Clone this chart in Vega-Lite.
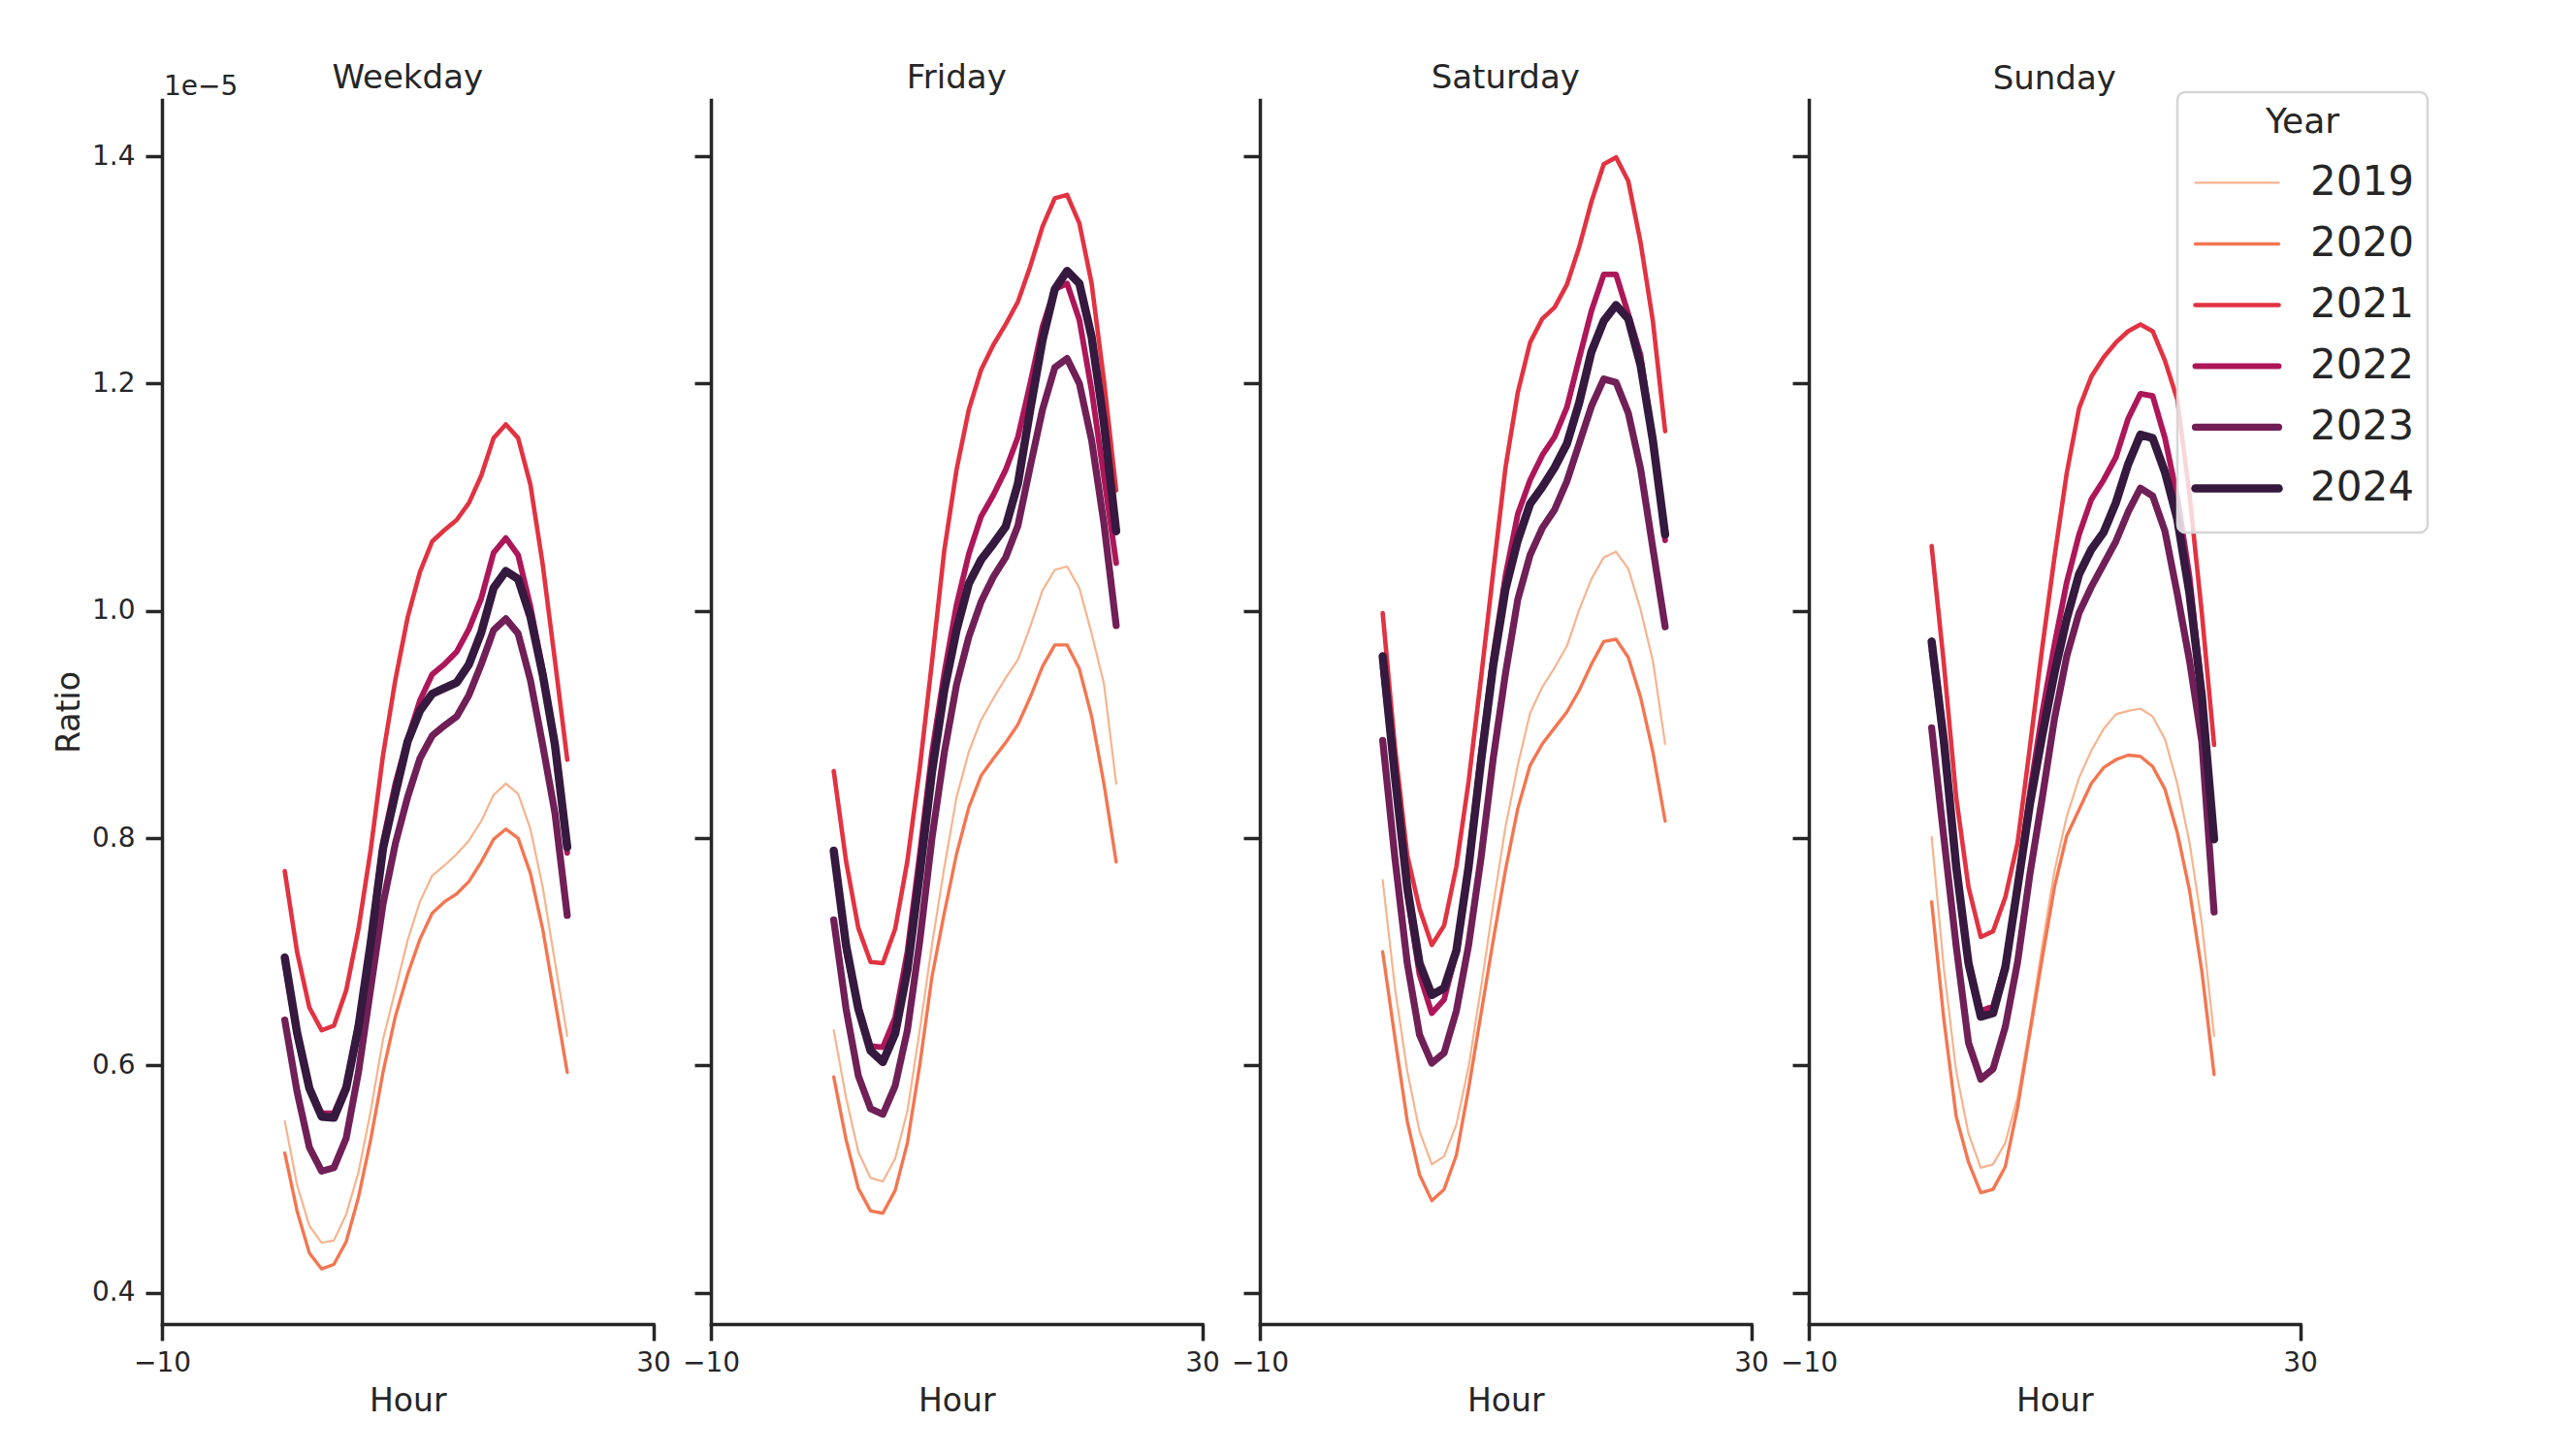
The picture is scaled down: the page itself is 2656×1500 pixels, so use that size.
{
"$schema":"https://vega.github.io/schema/vega-lite/v6.json",
"padding":{"left":55,"top":64,"right":20,"bottom":20},
"datasets":{
"weekday":[
{"y":2019,"h":0,"r":0.551},{"y":2019,"h":1,"r":0.495},{"y":2019,"h":2,"r":0.459},{"y":2019,"h":3,"r":0.444},{"y":2019,"h":4,"r":0.446},{"y":2019,"h":5,"r":0.469},{"y":2019,"h":6,"r":0.506},{"y":2019,"h":7,"r":0.560},{"y":2019,"h":8,"r":0.623},{"y":2019,"h":9,"r":0.666},{"y":2019,"h":10,"r":0.710},{"y":2019,"h":11,"r":0.744},{"y":2019,"h":12,"r":0.767},{"y":2019,"h":13,"r":0.776},{"y":2019,"h":14,"r":0.786},{"y":2019,"h":15,"r":0.798},{"y":2019,"h":16,"r":0.815},{"y":2019,"h":17,"r":0.838},{"y":2019,"h":18,"r":0.848},{"y":2019,"h":19,"r":0.839},{"y":2019,"h":20,"r":0.808},{"y":2019,"h":21,"r":0.757},{"y":2019,"h":22,"r":0.691},{"y":2019,"h":23,"r":0.626},
{"y":2020,"h":0,"r":0.523},{"y":2020,"h":1,"r":0.472},{"y":2020,"h":2,"r":0.435},{"y":2020,"h":3,"r":0.421},{"y":2020,"h":4,"r":0.425},{"y":2020,"h":5,"r":0.445},{"y":2020,"h":6,"r":0.484},{"y":2020,"h":7,"r":0.535},{"y":2020,"h":8,"r":0.594},{"y":2020,"h":9,"r":0.643},{"y":2020,"h":10,"r":0.680},{"y":2020,"h":11,"r":0.711},{"y":2020,"h":12,"r":0.734},{"y":2020,"h":13,"r":0.744},{"y":2020,"h":14,"r":0.751},{"y":2020,"h":15,"r":0.762},{"y":2020,"h":16,"r":0.779},{"y":2020,"h":17,"r":0.799},{"y":2020,"h":18,"r":0.808},{"y":2020,"h":19,"r":0.800},{"y":2020,"h":20,"r":0.769},{"y":2020,"h":21,"r":0.720},{"y":2020,"h":22,"r":0.657},{"y":2020,"h":23,"r":0.594},
{"y":2021,"h":0,"r":0.771},{"y":2021,"h":1,"r":0.700},{"y":2021,"h":2,"r":0.651},{"y":2021,"h":3,"r":0.631},{"y":2021,"h":4,"r":0.635},{"y":2021,"h":5,"r":0.666},{"y":2021,"h":6,"r":0.720},{"y":2021,"h":7,"r":0.790},{"y":2021,"h":8,"r":0.873},{"y":2021,"h":9,"r":0.939},{"y":2021,"h":10,"r":0.994},{"y":2021,"h":11,"r":1.034},{"y":2021,"h":12,"r":1.061},{"y":2021,"h":13,"r":1.071},{"y":2021,"h":14,"r":1.080},{"y":2021,"h":15,"r":1.095},{"y":2021,"h":16,"r":1.119},{"y":2021,"h":17,"r":1.152},{"y":2021,"h":18,"r":1.164},{"y":2021,"h":19,"r":1.152},{"y":2021,"h":20,"r":1.111},{"y":2021,"h":21,"r":1.041},{"y":2021,"h":22,"r":0.956},{"y":2021,"h":23,"r":0.869},
{"y":2022,"h":0,"r":0.690},{"y":2022,"h":1,"r":0.625},{"y":2022,"h":2,"r":0.578},{"y":2022,"h":3,"r":0.558},{"y":2022,"h":4,"r":0.558},{"y":2022,"h":5,"r":0.583},{"y":2022,"h":6,"r":0.638},{"y":2022,"h":7,"r":0.712},{"y":2022,"h":8,"r":0.797},{"y":2022,"h":9,"r":0.848},{"y":2022,"h":10,"r":0.887},{"y":2022,"h":11,"r":0.921},{"y":2022,"h":12,"r":0.944},{"y":2022,"h":13,"r":0.953},{"y":2022,"h":14,"r":0.964},{"y":2022,"h":15,"r":0.984},{"y":2022,"h":16,"r":1.011},{"y":2022,"h":17,"r":1.051},{"y":2022,"h":18,"r":1.064},{"y":2022,"h":19,"r":1.049},{"y":2022,"h":20,"r":1.004},{"y":2022,"h":21,"r":0.948},{"y":2022,"h":22,"r":0.877},{"y":2022,"h":23,"r":0.787},
{"y":2023,"h":0,"r":0.640},{"y":2023,"h":1,"r":0.577},{"y":2023,"h":2,"r":0.528},{"y":2023,"h":3,"r":0.507},{"y":2023,"h":4,"r":0.510},{"y":2023,"h":5,"r":0.536},{"y":2023,"h":6,"r":0.594},{"y":2023,"h":7,"r":0.668},{"y":2023,"h":8,"r":0.742},{"y":2023,"h":9,"r":0.795},{"y":2023,"h":10,"r":0.836},{"y":2023,"h":11,"r":0.870},{"y":2023,"h":12,"r":0.890},{"y":2023,"h":13,"r":0.899},{"y":2023,"h":14,"r":0.907},{"y":2023,"h":15,"r":0.926},{"y":2023,"h":16,"r":0.953},{"y":2023,"h":17,"r":0.983},{"y":2023,"h":18,"r":0.993},{"y":2023,"h":19,"r":0.980},{"y":2023,"h":20,"r":0.939},{"y":2023,"h":21,"r":0.882},{"y":2023,"h":22,"r":0.822},{"y":2023,"h":23,"r":0.732},
{"y":2024,"h":0,"r":0.695},{"y":2024,"h":1,"r":0.629},{"y":2024,"h":2,"r":0.580},{"y":2024,"h":3,"r":0.555},{"y":2024,"h":4,"r":0.554},{"y":2024,"h":5,"r":0.580},{"y":2024,"h":6,"r":0.634},{"y":2024,"h":7,"r":0.708},{"y":2024,"h":8,"r":0.791},{"y":2024,"h":9,"r":0.839},{"y":2024,"h":10,"r":0.885},{"y":2024,"h":11,"r":0.912},{"y":2024,"h":12,"r":0.927},{"y":2024,"h":13,"r":0.932},{"y":2024,"h":14,"r":0.937},{"y":2024,"h":15,"r":0.953},{"y":2024,"h":16,"r":0.981},{"y":2024,"h":17,"r":1.020},{"y":2024,"h":18,"r":1.035},{"y":2024,"h":19,"r":1.028},{"y":2024,"h":20,"r":0.995},{"y":2024,"h":21,"r":0.944},{"y":2024,"h":22,"r":0.882},{"y":2024,"h":23,"r":0.792}
],
"friday":[
{"y":2019,"h":0,"r":0.631},{"y":2019,"h":1,"r":0.572},{"y":2019,"h":2,"r":0.524},{"y":2019,"h":3,"r":0.501},{"y":2019,"h":4,"r":0.498},{"y":2019,"h":5,"r":0.518},{"y":2019,"h":6,"r":0.560},{"y":2019,"h":7,"r":0.631},{"y":2019,"h":8,"r":0.706},{"y":2019,"h":9,"r":0.774},{"y":2019,"h":10,"r":0.836},{"y":2019,"h":11,"r":0.876},{"y":2019,"h":12,"r":0.904},{"y":2019,"h":13,"r":0.923},{"y":2019,"h":14,"r":0.941},{"y":2019,"h":15,"r":0.957},{"y":2019,"h":16,"r":0.986},{"y":2019,"h":17,"r":1.018},{"y":2019,"h":18,"r":1.036},{"y":2019,"h":19,"r":1.039},{"y":2019,"h":20,"r":1.020},{"y":2019,"h":21,"r":0.980},{"y":2019,"h":22,"r":0.936},{"y":2019,"h":23,"r":0.848},
{"y":2020,"h":0,"r":0.590},{"y":2020,"h":1,"r":0.535},{"y":2020,"h":2,"r":0.492},{"y":2020,"h":3,"r":0.472},{"y":2020,"h":4,"r":0.470},{"y":2020,"h":5,"r":0.490},{"y":2020,"h":6,"r":0.532},{"y":2020,"h":7,"r":0.600},{"y":2020,"h":8,"r":0.678},{"y":2020,"h":9,"r":0.734},{"y":2020,"h":10,"r":0.786},{"y":2020,"h":11,"r":0.827},{"y":2020,"h":12,"r":0.855},{"y":2020,"h":13,"r":0.870},{"y":2020,"h":14,"r":0.884},{"y":2020,"h":15,"r":0.900},{"y":2020,"h":16,"r":0.924},{"y":2020,"h":17,"r":0.951},{"y":2020,"h":18,"r":0.970},{"y":2020,"h":19,"r":0.970},{"y":2020,"h":20,"r":0.949},{"y":2020,"h":21,"r":0.907},{"y":2020,"h":22,"r":0.848},{"y":2020,"h":23,"r":0.779},
{"y":2021,"h":0,"r":0.859},{"y":2021,"h":1,"r":0.780},{"y":2021,"h":2,"r":0.721},{"y":2021,"h":3,"r":0.691},{"y":2021,"h":4,"r":0.690},{"y":2021,"h":5,"r":0.720},{"y":2021,"h":6,"r":0.780},{"y":2021,"h":7,"r":0.861},{"y":2021,"h":8,"r":0.955},{"y":2021,"h":9,"r":1.053},{"y":2021,"h":10,"r":1.124},{"y":2021,"h":11,"r":1.177},{"y":2021,"h":12,"r":1.212},{"y":2021,"h":13,"r":1.234},{"y":2021,"h":14,"r":1.252},{"y":2021,"h":15,"r":1.272},{"y":2021,"h":16,"r":1.303},{"y":2021,"h":17,"r":1.338},{"y":2021,"h":18,"r":1.363},{"y":2021,"h":19,"r":1.366},{"y":2021,"h":20,"r":1.341},{"y":2021,"h":21,"r":1.288},{"y":2021,"h":22,"r":1.203},{"y":2021,"h":23,"r":1.106},
{"y":2022,"h":0,"r":0.785},{"y":2022,"h":1,"r":0.700},{"y":2022,"h":2,"r":0.648},{"y":2022,"h":3,"r":0.617},{"y":2022,"h":4,"r":0.616},{"y":2022,"h":5,"r":0.642},{"y":2022,"h":6,"r":0.700},{"y":2022,"h":7,"r":0.785},{"y":2022,"h":8,"r":0.875},{"y":2022,"h":9,"r":0.945},{"y":2022,"h":10,"r":1.005},{"y":2022,"h":11,"r":1.050},{"y":2022,"h":12,"r":1.083},{"y":2022,"h":13,"r":1.102},{"y":2022,"h":14,"r":1.124},{"y":2022,"h":15,"r":1.153},{"y":2022,"h":16,"r":1.200},{"y":2022,"h":17,"r":1.250},{"y":2022,"h":18,"r":1.283},{"y":2022,"h":19,"r":1.288},{"y":2022,"h":20,"r":1.256},{"y":2022,"h":21,"r":1.194},{"y":2022,"h":22,"r":1.118},{"y":2022,"h":23,"r":1.042},
{"y":2023,"h":0,"r":0.728},{"y":2023,"h":1,"r":0.650},{"y":2023,"h":2,"r":0.591},{"y":2023,"h":3,"r":0.562},{"y":2023,"h":4,"r":0.557},{"y":2023,"h":5,"r":0.582},{"y":2023,"h":6,"r":0.631},{"y":2023,"h":7,"r":0.709},{"y":2023,"h":8,"r":0.800},{"y":2023,"h":9,"r":0.875},{"y":2023,"h":10,"r":0.935},{"y":2023,"h":11,"r":0.977},{"y":2023,"h":12,"r":1.008},{"y":2023,"h":13,"r":1.030},{"y":2023,"h":14,"r":1.047},{"y":2023,"h":15,"r":1.075},{"y":2023,"h":16,"r":1.127},{"y":2023,"h":17,"r":1.177},{"y":2023,"h":18,"r":1.214},{"y":2023,"h":19,"r":1.222},{"y":2023,"h":20,"r":1.200},{"y":2023,"h":21,"r":1.150},{"y":2023,"h":22,"r":1.077},{"y":2023,"h":23,"r":0.987},
{"y":2024,"h":0,"r":0.789},{"y":2024,"h":1,"r":0.706},{"y":2024,"h":2,"r":0.650},{"y":2024,"h":3,"r":0.613},{"y":2024,"h":4,"r":0.603},{"y":2024,"h":5,"r":0.628},{"y":2024,"h":6,"r":0.684},{"y":2024,"h":7,"r":0.768},{"y":2024,"h":8,"r":0.858},{"y":2024,"h":9,"r":0.930},{"y":2024,"h":10,"r":0.983},{"y":2024,"h":11,"r":1.024},{"y":2024,"h":12,"r":1.045},{"y":2024,"h":13,"r":1.059},{"y":2024,"h":14,"r":1.074},{"y":2024,"h":15,"r":1.112},{"y":2024,"h":16,"r":1.177},{"y":2024,"h":17,"r":1.238},{"y":2024,"h":18,"r":1.283},{"y":2024,"h":19,"r":1.299},{"y":2024,"h":20,"r":1.288},{"y":2024,"h":21,"r":1.241},{"y":2024,"h":22,"r":1.165},{"y":2024,"h":23,"r":1.070}
],
"saturday":[
{"y":2019,"h":0,"r":0.763},{"y":2019,"h":1,"r":0.668},{"y":2019,"h":2,"r":0.595},{"y":2019,"h":3,"r":0.542},{"y":2019,"h":4,"r":0.513},{"y":2019,"h":5,"r":0.520},{"y":2019,"h":6,"r":0.548},{"y":2019,"h":7,"r":0.599},{"y":2019,"h":8,"r":0.668},{"y":2019,"h":9,"r":0.741},{"y":2019,"h":10,"r":0.810},{"y":2019,"h":11,"r":0.864},{"y":2019,"h":12,"r":0.910},{"y":2019,"h":13,"r":0.933},{"y":2019,"h":14,"r":0.950},{"y":2019,"h":15,"r":0.969},{"y":2019,"h":16,"r":1.001},{"y":2019,"h":17,"r":1.028},{"y":2019,"h":18,"r":1.047},{"y":2019,"h":19,"r":1.052},{"y":2019,"h":20,"r":1.037},{"y":2019,"h":21,"r":1.001},{"y":2019,"h":22,"r":0.956},{"y":2019,"h":23,"r":0.883},
{"y":2020,"h":0,"r":0.700},{"y":2020,"h":1,"r":0.624},{"y":2020,"h":2,"r":0.551},{"y":2020,"h":3,"r":0.504},{"y":2020,"h":4,"r":0.481},{"y":2020,"h":5,"r":0.491},{"y":2020,"h":6,"r":0.521},{"y":2020,"h":7,"r":0.580},{"y":2020,"h":8,"r":0.645},{"y":2020,"h":9,"r":0.710},{"y":2020,"h":10,"r":0.772},{"y":2020,"h":11,"r":0.826},{"y":2020,"h":12,"r":0.864},{"y":2020,"h":13,"r":0.883},{"y":2020,"h":14,"r":0.897},{"y":2020,"h":15,"r":0.911},{"y":2020,"h":16,"r":0.930},{"y":2020,"h":17,"r":0.953},{"y":2020,"h":18,"r":0.973},{"y":2020,"h":19,"r":0.975},{"y":2020,"h":20,"r":0.959},{"y":2020,"h":21,"r":0.924},{"y":2020,"h":22,"r":0.876},{"y":2020,"h":23,"r":0.815},
{"y":2021,"h":0,"r":0.998},{"y":2021,"h":1,"r":0.880},{"y":2021,"h":2,"r":0.785},{"y":2021,"h":3,"r":0.738},{"y":2021,"h":4,"r":0.706},{"y":2021,"h":5,"r":0.723},{"y":2021,"h":6,"r":0.775},{"y":2021,"h":7,"r":0.850},{"y":2021,"h":8,"r":0.940},{"y":2021,"h":9,"r":1.034},{"y":2021,"h":10,"r":1.126},{"y":2021,"h":11,"r":1.192},{"y":2021,"h":12,"r":1.236},{"y":2021,"h":13,"r":1.257},{"y":2021,"h":14,"r":1.267},{"y":2021,"h":15,"r":1.287},{"y":2021,"h":16,"r":1.320},{"y":2021,"h":17,"r":1.360},{"y":2021,"h":18,"r":1.393},{"y":2021,"h":19,"r":1.399},{"y":2021,"h":20,"r":1.378},{"y":2021,"h":21,"r":1.324},{"y":2021,"h":22,"r":1.255},{"y":2021,"h":23,"r":1.158},
{"y":2022,"h":0,"r":0.950},{"y":2022,"h":1,"r":0.850},{"y":2022,"h":2,"r":0.750},{"y":2022,"h":3,"r":0.680},{"y":2022,"h":4,"r":0.646},{"y":2022,"h":5,"r":0.658},{"y":2022,"h":6,"r":0.700},{"y":2022,"h":7,"r":0.780},{"y":2022,"h":8,"r":0.875},{"y":2022,"h":9,"r":0.960},{"y":2022,"h":10,"r":1.031},{"y":2022,"h":11,"r":1.085},{"y":2022,"h":12,"r":1.115},{"y":2022,"h":13,"r":1.137},{"y":2022,"h":14,"r":1.153},{"y":2022,"h":15,"r":1.179},{"y":2022,"h":16,"r":1.222},{"y":2022,"h":17,"r":1.264},{"y":2022,"h":18,"r":1.296},{"y":2022,"h":19,"r":1.296},{"y":2022,"h":20,"r":1.261},{"y":2022,"h":21,"r":1.225},{"y":2022,"h":22,"r":1.150},{"y":2022,"h":23,"r":1.062},
{"y":2023,"h":0,"r":0.886},{"y":2023,"h":1,"r":0.782},{"y":2023,"h":2,"r":0.690},{"y":2023,"h":3,"r":0.627},{"y":2023,"h":4,"r":0.602},{"y":2023,"h":5,"r":0.611},{"y":2023,"h":6,"r":0.648},{"y":2023,"h":7,"r":0.706},{"y":2023,"h":8,"r":0.782},{"y":2023,"h":9,"r":0.870},{"y":2023,"h":10,"r":0.945},{"y":2023,"h":11,"r":1.010},{"y":2023,"h":12,"r":1.049},{"y":2023,"h":13,"r":1.073},{"y":2023,"h":14,"r":1.089},{"y":2023,"h":15,"r":1.114},{"y":2023,"h":16,"r":1.147},{"y":2023,"h":17,"r":1.180},{"y":2023,"h":18,"r":1.204},{"y":2023,"h":19,"r":1.201},{"y":2023,"h":20,"r":1.174},{"y":2023,"h":21,"r":1.125},{"y":2023,"h":22,"r":1.055},{"y":2023,"h":23,"r":0.986},
{"y":2024,"h":0,"r":0.960},{"y":2024,"h":1,"r":0.854},{"y":2024,"h":2,"r":0.757},{"y":2024,"h":3,"r":0.690},{"y":2024,"h":4,"r":0.662},{"y":2024,"h":5,"r":0.668},{"y":2024,"h":6,"r":0.701},{"y":2024,"h":7,"r":0.775},{"y":2024,"h":8,"r":0.867},{"y":2024,"h":9,"r":0.952},{"y":2024,"h":10,"r":1.019},{"y":2024,"h":11,"r":1.062},{"y":2024,"h":12,"r":1.094},{"y":2024,"h":13,"r":1.109},{"y":2024,"h":14,"r":1.126},{"y":2024,"h":15,"r":1.147},{"y":2024,"h":16,"r":1.183},{"y":2024,"h":17,"r":1.228},{"y":2024,"h":18,"r":1.255},{"y":2024,"h":19,"r":1.269},{"y":2024,"h":20,"r":1.257},{"y":2024,"h":21,"r":1.216},{"y":2024,"h":22,"r":1.150},{"y":2024,"h":23,"r":1.067}
],
"sunday":[
{"y":2019,"h":0,"r":0.801},{"y":2019,"h":1,"r":0.685},{"y":2019,"h":2,"r":0.595},{"y":2019,"h":3,"r":0.540},{"y":2019,"h":4,"r":0.510},{"y":2019,"h":5,"r":0.513},{"y":2019,"h":6,"r":0.532},{"y":2019,"h":7,"r":0.572},{"y":2019,"h":8,"r":0.634},{"y":2019,"h":9,"r":0.705},{"y":2019,"h":10,"r":0.771},{"y":2019,"h":11,"r":0.819},{"y":2019,"h":12,"r":0.853},{"y":2019,"h":13,"r":0.877},{"y":2019,"h":14,"r":0.896},{"y":2019,"h":15,"r":0.909},{"y":2019,"h":16,"r":0.912},{"y":2019,"h":17,"r":0.914},{"y":2019,"h":18,"r":0.907},{"y":2019,"h":19,"r":0.887},{"y":2019,"h":20,"r":0.848},{"y":2019,"h":21,"r":0.796},{"y":2019,"h":22,"r":0.725},{"y":2019,"h":23,"r":0.626},
{"y":2020,"h":0,"r":0.744},{"y":2020,"h":1,"r":0.640},{"y":2020,"h":2,"r":0.555},{"y":2020,"h":3,"r":0.515},{"y":2020,"h":4,"r":0.488},{"y":2020,"h":5,"r":0.491},{"y":2020,"h":6,"r":0.511},{"y":2020,"h":7,"r":0.563},{"y":2020,"h":8,"r":0.629},{"y":2020,"h":9,"r":0.694},{"y":2020,"h":10,"r":0.757},{"y":2020,"h":11,"r":0.802},{"y":2020,"h":12,"r":0.825},{"y":2020,"h":13,"r":0.848},{"y":2020,"h":14,"r":0.862},{"y":2020,"h":15,"r":0.869},{"y":2020,"h":16,"r":0.873},{"y":2020,"h":17,"r":0.872},{"y":2020,"h":18,"r":0.863},{"y":2020,"h":19,"r":0.843},{"y":2020,"h":20,"r":0.805},{"y":2020,"h":21,"r":0.754},{"y":2020,"h":22,"r":0.683},{"y":2020,"h":23,"r":0.592},
{"y":2021,"h":0,"r":1.057},{"y":2021,"h":1,"r":0.953},{"y":2021,"h":2,"r":0.836},{"y":2021,"h":3,"r":0.757},{"y":2021,"h":4,"r":0.713},{"y":2021,"h":5,"r":0.718},{"y":2021,"h":6,"r":0.748},{"y":2021,"h":7,"r":0.796},{"y":2021,"h":8,"r":0.880},{"y":2021,"h":9,"r":0.967},{"y":2021,"h":10,"r":1.047},{"y":2021,"h":11,"r":1.121},{"y":2021,"h":12,"r":1.178},{"y":2021,"h":13,"r":1.206},{"y":2021,"h":14,"r":1.223},{"y":2021,"h":15,"r":1.236},{"y":2021,"h":16,"r":1.246},{"y":2021,"h":17,"r":1.252},{"y":2021,"h":18,"r":1.246},{"y":2021,"h":19,"r":1.220},{"y":2021,"h":20,"r":1.186},{"y":2021,"h":21,"r":1.102},{"y":2021,"h":22,"r":0.998},{"y":2021,"h":23,"r":0.882},
{"y":2022,"h":0,"r":0.965},{"y":2022,"h":1,"r":0.880},{"y":2022,"h":2,"r":0.775},{"y":2022,"h":3,"r":0.690},{"y":2022,"h":4,"r":0.648},{"y":2022,"h":5,"r":0.652},{"y":2022,"h":6,"r":0.690},{"y":2022,"h":7,"r":0.760},{"y":2022,"h":8,"r":0.840},{"y":2022,"h":9,"r":0.910},{"y":2022,"h":10,"r":0.970},{"y":2022,"h":11,"r":1.025},{"y":2022,"h":12,"r":1.067},{"y":2022,"h":13,"r":1.098},{"y":2022,"h":14,"r":1.115},{"y":2022,"h":15,"r":1.135},{"y":2022,"h":16,"r":1.169},{"y":2022,"h":17,"r":1.191},{"y":2022,"h":18,"r":1.189},{"y":2022,"h":19,"r":1.152},{"y":2022,"h":20,"r":1.100},{"y":2022,"h":21,"r":1.030},{"y":2022,"h":22,"r":0.930},{"y":2022,"h":23,"r":0.800},
{"y":2023,"h":0,"r":0.897},{"y":2023,"h":1,"r":0.800},{"y":2023,"h":2,"r":0.705},{"y":2023,"h":3,"r":0.620},{"y":2023,"h":4,"r":0.588},{"y":2023,"h":5,"r":0.597},{"y":2023,"h":6,"r":0.634},{"y":2023,"h":7,"r":0.691},{"y":2023,"h":8,"r":0.768},{"y":2023,"h":9,"r":0.835},{"y":2023,"h":10,"r":0.905},{"y":2023,"h":11,"r":0.960},{"y":2023,"h":12,"r":0.998},{"y":2023,"h":13,"r":1.021},{"y":2023,"h":14,"r":1.041},{"y":2023,"h":15,"r":1.061},{"y":2023,"h":16,"r":1.087},{"y":2023,"h":17,"r":1.108},{"y":2023,"h":18,"r":1.101},{"y":2023,"h":19,"r":1.070},{"y":2023,"h":20,"r":1.015},{"y":2023,"h":21,"r":0.956},{"y":2023,"h":22,"r":0.885},{"y":2023,"h":23,"r":0.735},
{"y":2024,"h":0,"r":0.973},{"y":2024,"h":1,"r":0.885},{"y":2024,"h":2,"r":0.775},{"y":2024,"h":3,"r":0.690},{"y":2024,"h":4,"r":0.643},{"y":2024,"h":5,"r":0.646},{"y":2024,"h":6,"r":0.686},{"y":2024,"h":7,"r":0.757},{"y":2024,"h":8,"r":0.830},{"y":2024,"h":9,"r":0.890},{"y":2024,"h":10,"r":0.945},{"y":2024,"h":11,"r":0.993},{"y":2024,"h":12,"r":1.032},{"y":2024,"h":13,"r":1.054},{"y":2024,"h":14,"r":1.069},{"y":2024,"h":15,"r":1.095},{"y":2024,"h":16,"r":1.129},{"y":2024,"h":17,"r":1.155},{"y":2024,"h":18,"r":1.152},{"y":2024,"h":19,"r":1.122},{"y":2024,"h":20,"r":1.081},{"y":2024,"h":21,"r":1.015},{"y":2024,"h":22,"r":0.925},{"y":2024,"h":23,"r":0.799}
]
},
"spacing":59,
"bounds":"flush",
"resolve":{"legend":{"color":"independent","strokeWidth":"independent"}},
"hconcat":[
{
"width":506.5,"height":1262,
"title":{"text":"Weekday","offset":-22},
"data":{"name":"weekday"},
"layer":[
{"mark":{"type":"line","strokeCap":"round","strokeJoin":"round"},
"encoding":{
"x":{"field":"h","type":"quantitative","scale":{"domain":[-10,30],"nice":false,"zero":false},"axis":{"values":[-10,30],"format":"d","title":"Hour"}},
"y":{"field":"r","type":"quantitative","scale":{"domain":[0.3725,1.4495],"nice":false,"zero":false},"axis":{"values":[0.4,0.6,0.8,1.0,1.2,1.4],"format":".1f","title":"Ratio"}},
"color":{"field":"y","type":"ordinal","scale":{"domain":[2019,2020,2021,2022,2023,2024],"range":["#f6b48f","#f37651","#e13342","#ad1759","#701f57","#35193e"]},"legend":null},
"strokeWidth":{"field":"y","type":"ordinal","scale":{"type":"ordinal","domain":[2019,2020,2021,2022,2023,2024],"range":[2.2,3.4,4.6,5.9,7.2,8.5]},"legend":null}
}},
{"data":{"values":[{"t":"1e−5"}]},
"mark":{"type":"text","align":"left","baseline":"alphabetic","fontSize":28,"dx":2,"dy":-5,"color":"#262626"},
"encoding":{"x":{"datum":-10},"y":{"datum":1.4495},"text":{"field":"t"}}}
]
},
{
"width":506.5,"height":1262,
"title":{"text":"Friday","offset":5},
"data":{"name":"friday"},
"mark":{"type":"line","strokeCap":"round","strokeJoin":"round"},
"encoding":{
"x":{"field":"h","type":"quantitative","scale":{"domain":[-10,30],"nice":false,"zero":false},"axis":{"values":[-10,30],"format":"d","title":"Hour"}},
"y":{"field":"r","type":"quantitative","scale":{"domain":[0.3725,1.4495],"nice":false,"zero":false},"axis":{"values":[0.4,0.6,0.8,1.0,1.2,1.4],"labels":false,"title":null}},
"color":{"field":"y","type":"ordinal","scale":{"domain":[2019,2020,2021,2022,2023,2024],"range":["#f6b48f","#f37651","#e13342","#ad1759","#701f57","#35193e"]},"legend":null},
"strokeWidth":{"field":"y","type":"ordinal","scale":{"type":"ordinal","domain":[2019,2020,2021,2022,2023,2024],"range":[2.2,3.4,4.6,5.9,7.2,8.5]},"legend":null}
}
},
{
"width":506.5,"height":1262,
"title":{"text":"Saturday","offset":5},
"data":{"name":"saturday"},
"mark":{"type":"line","strokeCap":"round","strokeJoin":"round"},
"encoding":{
"x":{"field":"h","type":"quantitative","scale":{"domain":[-10,30],"nice":false,"zero":false},"axis":{"values":[-10,30],"format":"d","title":"Hour"}},
"y":{"field":"r","type":"quantitative","scale":{"domain":[0.3725,1.4495],"nice":false,"zero":false},"axis":{"values":[0.4,0.6,0.8,1.0,1.2,1.4],"labels":false,"title":null}},
"color":{"field":"y","type":"ordinal","scale":{"domain":[2019,2020,2021,2022,2023,2024],"range":["#f6b48f","#f37651","#e13342","#ad1759","#701f57","#35193e"]},"legend":null},
"strokeWidth":{"field":"y","type":"ordinal","scale":{"type":"ordinal","domain":[2019,2020,2021,2022,2023,2024],"range":[2.2,3.4,4.6,5.9,7.2,8.5]},"legend":null}
}
},
{
"width":506.5,"height":1262,
"title":{"text":"Sunday","offset":-5.5},
"data":{"name":"sunday"},
"mark":{"type":"line","strokeCap":"round","strokeJoin":"round"},
"encoding":{
"x":{"field":"h","type":"quantitative","scale":{"domain":[-10,30],"nice":false,"zero":false},"axis":{"values":[-10,30],"format":"d","title":"Hour"}},
"y":{"field":"r","type":"quantitative","scale":{"domain":[0.3725,1.4495],"nice":false,"zero":false},"axis":{"values":[0.4,0.6,0.8,1.0,1.2,1.4],"labels":false,"title":null}},
"color":{"field":"y","type":"ordinal","scale":{"domain":[2019,2020,2021,2022,2023,2024],"range":["#f6b48f","#f37651","#e13342","#ad1759","#701f57","#35193e"]},
"legend":{"orient":"none","legendX":380,"legendY":-8,"title":"Year","symbolType":"stroke","symbolSize":7396,"clipHeight":62.9,"encode":{"symbols":{"update":{"strokeCap":{"value":"round"}}},"legend":{"update":{"strokeWidth":{"value":2.5}}}}}},
"strokeWidth":{"field":"y","type":"ordinal","scale":{"type":"ordinal","domain":[2019,2020,2021,2022,2023,2024],"range":[2.2,3.4,4.6,5.9,7.2,8.5]},
"legend":{"orient":"none","legendX":380,"legendY":-8,"title":"Year","symbolType":"stroke","symbolSize":7396,"clipHeight":62.9}}
}
}
],
"config":{
"font":"DejaVu Sans",
"view":{"stroke":null},
"axis":{"domainColor":"#262626","domainWidth":3.5,"domainCap":"square","tickColor":"#262626","tickWidth":3.5,"tickSize":17,"labelFontSize":28,"labelColor":"#262626","titleFontSize":33,"titleFontWeight":"normal","titleColor":"#262626","grid":false,"labelFlush":false},
"axisX":{"labelPadding":9,"titlePadding":9},
"axisY":{"labelPadding":11,"titlePadding":6},
"title":{"fontSize":34,"fontWeight":"normal","color":"#262626","frame":"group","anchor":"middle"},
"legend":{"titleFontSize":36,"titleFontWeight":"normal","titleColor":"#262626","titleAnchor":"middle","titlePadding":12,"labelFontSize":42,"labelColor":"#262626","labelOffset":28,"rowPadding":0,"padding":14,"strokeColor":"#d6d6d6","fillColor":"rgba(255,255,255,0.8)","cornerRadius":8}
}
}
